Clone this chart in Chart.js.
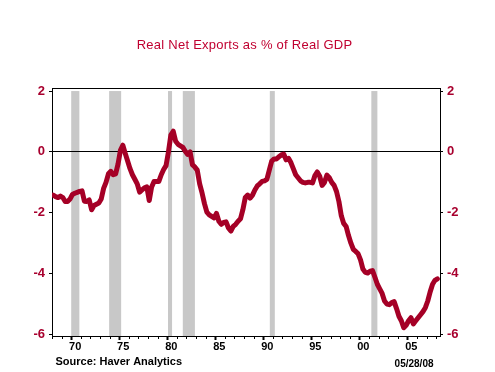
<!DOCTYPE html>
<html>
<head>
    <meta charset="UTF-8">
    <title>Real Net Exports as % of Real GDP</title>
    <script src="https://cdn.jsdelivr.net/npm/chart.js"></script>
    <style>
        body {
            margin: 0;
            background-color: #fff;
        }
        #wrap {
            width: 495px;
            height: 372px;
        }
    </style>
</head>
<body>
    <div id="wrap"><canvas id="myChart" width="495" height="372"></canvas></div>
    <script>
        // quarterly data, first value = 1968 Q1
        const startYear = 1968;
        const netExports = [
            -1.42, -1.47, -1.50, -1.45,   // 1968
            -1.50, -1.63, -1.63, -1.55,   // 1969
            -1.40, -1.36, -1.33, -1.30,   // 1970
            -1.28, -1.62, -1.63, -1.58,   // 1971
            -1.90, -1.76, -1.72, -1.68,   // 1972
            -1.55, -1.20, -1.00, -0.72,   // 1973
            -0.64, -0.75, -0.72, -0.40,   // 1974
            0.05, 0.22, -0.05, -0.30,     // 1975
            -0.55, -0.75, -0.90, -1.05,   // 1976
            -1.32, -1.25, -1.18, -1.15,   // 1977
            -1.60, -1.15, -0.97, -0.97,   // 1978
            -0.97, -0.75, -0.58, -0.45,   // 1979
            0.00, 0.55, 0.68, 0.35,       // 1980
            0.25, 0.20, 0.15, 0.02,       // 1981
            -0.08, 0.00, -0.42, -0.50,    // 1982
            -0.60, -1.05, -1.35, -1.70,   // 1983
            -1.98, -2.07, -2.12, -2.17,   // 1984
            -2.02, -2.28, -2.38, -2.32,   // 1985
            -2.30, -2.50, -2.60, -2.45,   // 1986
            -2.38, -2.28, -2.20, -1.90,   // 1987
            -1.50, -1.42, -1.52, -1.42,   // 1988
            -1.25, -1.12, -1.05, -0.97,   // 1989
            -0.95, -0.90, -0.60, -0.30,   // 1990
            -0.23, -0.23, -0.16, -0.10,   // 1991
            -0.07, -0.26, -0.21, -0.35,   // 1992
            -0.55, -0.75, -0.85, -0.95,   // 1993
            -1.00, -1.02, -1.00, -1.00,   // 1994
            -1.02, -0.78, -0.66, -0.80,   // 1995
            -1.10, -1.00, -0.76, -0.85,   // 1996
            -1.00, -1.10, -1.30, -1.63,   // 1997
            -2.10, -2.35, -2.45, -2.75,   // 1998
            -3.00, -3.20, -3.27, -3.35,   // 1999
            -3.55, -3.85, -3.96, -3.98,   // 2000
            -3.92, -3.90, -4.12, -4.35,   // 2001
            -4.50, -4.65, -4.90, -5.00,   // 2002
            -5.02, -4.95, -4.92, -5.15,   // 2003
            -5.40, -5.55, -5.78, -5.70,   // 2004
            -5.55, -5.45, -5.65, -5.55,   // 2005
            -5.45, -5.35, -5.25, -5.12,   // 2006
            -4.90, -4.60, -4.35, -4.22,   // 2007
            -4.17                         // 2008
        ];

        // recession periods (shaded)
        const recessionStart = [1970.0, 1973.95, 1980.08, 1981.62, 1990.68, 2001.25];
        const recessionEnd   = [1970.85, 1975.2, 1980.5, 1982.88, 1991.2, 2001.88];

        const yTicks = [-6, -4, -2, 0, 2];
        const xTicks = [1970, 1975, 1980, 1985, 1990, 1995, 2000, 2005];

        const titleText = 'Real Net Exports as % of Real GDP';
        const sourceText = 'Source: Haver Analytics';
        const dateText = '05/28/08';

        const redText = '#A8002E';
        const lineColor = '#A50026';
        const fontFamily = '"Liberation Sans", Arial, sans-serif';

        const points = netExports.map((v, i) => ({ x: startYear + i / 4 + 0.125, y: v }));

        // gray bars behind everything
        const recessionBars = {
            id: 'recessionBars',
            beforeDraw(chart) {
                const ctx = chart.ctx;
                const xs = chart.scales.x;
                const ys = chart.scales.y;
                const area = chart.chartArea;
                const top = ys.getPixelForValue(2);
                ctx.save();
                ctx.fillStyle = '#C8C8C8';
                for (let i = 0; i < recessionStart.length; i++) {
                    const x1 = xs.getPixelForValue(recessionStart[i]);
                    const x2 = xs.getPixelForValue(recessionEnd[i]);
                    ctx.fillRect(x1, top, x2 - x1, area.bottom - top);
                }
                ctx.restore();
            }
        };

        // frame, minor ticks, title and footer text
        const decorations = {
            id: 'decorations',
            afterDraw(chart) {
                const ctx = chart.ctx;
                const area = chart.chartArea;
                const xs = chart.scales.x;
                ctx.save();
                ctx.strokeStyle = '#000';
                ctx.lineWidth = 1;
                ctx.beginPath();
                ctx.moveTo(area.left, Math.round(area.top) + 0.5);
                ctx.lineTo(area.right, Math.round(area.top) + 0.5);
                ctx.stroke();

                ctx.fillStyle = '#000';
                for (let yr = 1968; yr <= 2008; yr++) {
                    if (yr % 5 === 0) continue;
                    const px = Math.round(xs.getPixelForValue(yr));
                    ctx.fillRect(px, Math.round(area.bottom) + 1, 1, 2);
                }

                ctx.fillStyle = '#C00030';
                ctx.font = '13px ' + fontFamily;
                ctx.textAlign = 'center';
                ctx.textBaseline = 'alphabetic';
                if ('letterSpacing' in ctx) ctx.letterSpacing = '0.25px';
                ctx.fillText(titleText, 244.5, 49);
                if ('letterSpacing' in ctx) ctx.letterSpacing = '0px';

                ctx.fillStyle = '#000';
                ctx.font = 'bold 11px ' + fontFamily;
                ctx.textAlign = 'left';
                ctx.fillText(sourceText, 55.5, 365);

                ctx.font = 'bold 10px ' + fontFamily;
                ctx.textAlign = 'right';
                ctx.fillText(dateText, 433.5, 367);
                ctx.restore();
            }
        };

        const yTickFont = { family: fontFamily, size: 13, weight: 'bold' };

        const ctx = document.getElementById('myChart').getContext('2d');
        const myChart = new Chart(ctx, {
            type: 'line',
            data: {
                datasets: [{
                    label: 'Real Net Exports as % of Real GDP',
                    data: points,
                    borderColor: lineColor,
                    backgroundColor: lineColor,
                    borderWidth: 5,
                    borderJoinStyle: 'round',
                    borderCapStyle: 'round',
                    pointRadius: 0,
                    tension: 0,
                    fill: false
                }]
            },
            options: {
                responsive: false,
                animation: false,
                devicePixelRatio: 1,
                layout: {
                    padding: { top: 88, left: 0, right: 0, bottom: 0 }
                },
                plugins: {
                    legend: { display: false },
                    title: { display: false },
                    tooltip: { enabled: false }
                },
                scales: {
                    x: {
                        type: 'linear',
                        min: 1968,
                        max: 2008.4,
                        afterBuildTicks: scale => {
                            scale.ticks = xTicks.map(v => ({ value: v }));
                        },
                        afterFit: scale => { scale.height = 36; },
                        grid: {
                            drawOnChartArea: false,
                            tickLength: 4,
                            tickWidth: 2,
                            tickColor: '#000'
                        },
                        border: { color: '#000', width: 1 },
                        ticks: {
                            autoSkip: false,
                            maxRotation: 0,
                            padding: 0,
                            labelOffset: 4,
                            color: '#000',
                            font: { family: fontFamily, size: 11, weight: 'bold' },
                            callback: v => String(v).slice(2)
                        }
                    },
                    y: {
                        position: 'left',
                        min: -6.05,
                        max: 2.1,
                        afterBuildTicks: scale => {
                            scale.ticks = yTicks.map(v => ({ value: v }));
                        },
                        afterFit: scale => { scale.width = 52; },
                        grid: {
                            color: c => (c.tick && c.tick.value === 0) ? '#000' : 'rgba(0,0,0,0)',
                            tickColor: '#000',
                            tickLength: 3,
                            lineWidth: 1
                        },
                        border: { color: '#000', width: 1 },
                        ticks: {
                            padding: 4,
                            color: redText,
                            font: yTickFont,
                            callback: v => String(v)
                        }
                    },
                    y2: {
                        position: 'right',
                        min: -6.05,
                        max: 2.1,
                        afterBuildTicks: scale => {
                            scale.ticks = yTicks.map(v => ({ value: v }));
                        },
                        afterFit: scale => { scale.width = 55; },
                        grid: {
                            drawOnChartArea: false,
                            tickColor: '#000',
                            tickLength: 3
                        },
                        border: { color: '#000', width: 1 },
                        ticks: {
                            padding: 4,
                            color: redText,
                            font: yTickFont,
                            callback: v => String(v)
                        }
                    }
                }
            },
            plugins: [recessionBars, decorations]
        });
    </script>
</body>
</html>
